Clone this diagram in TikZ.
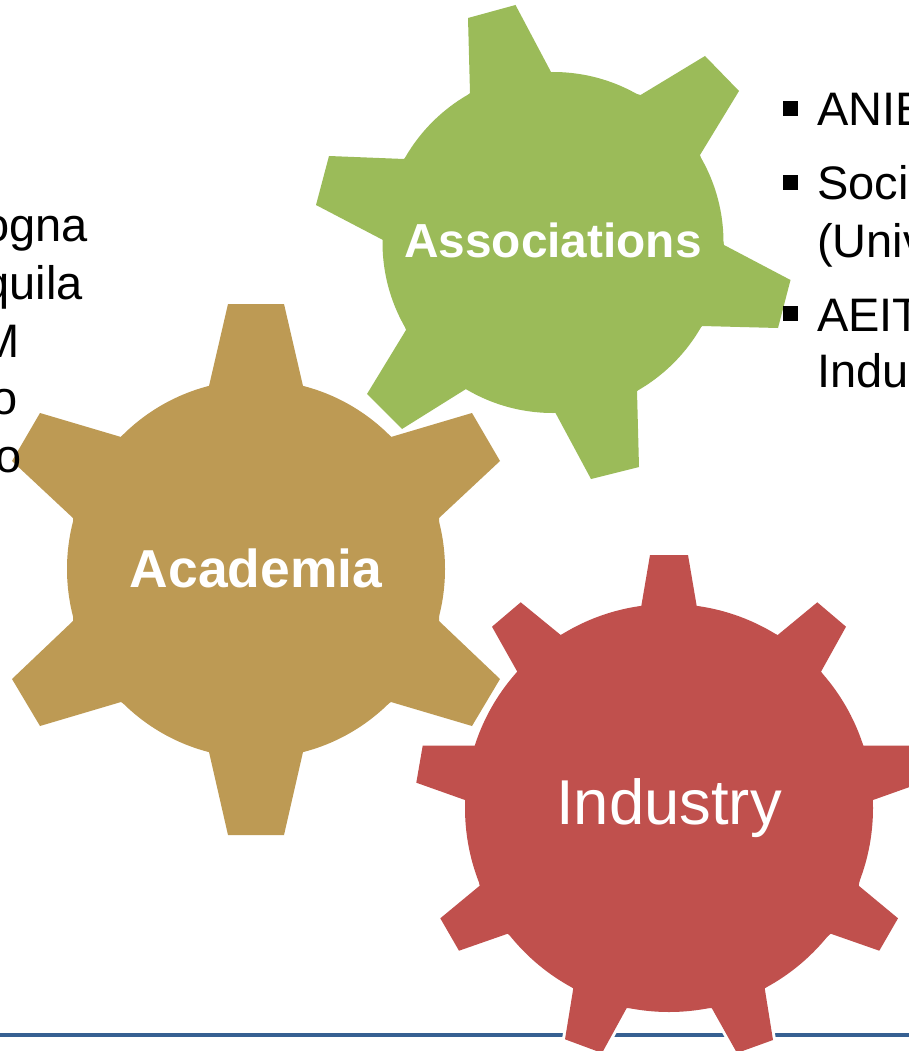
\documentclass[tikz,border=0pt]{standalone}
\usepackage{fontspec}
\setmainfont{Liberation Sans}
\definecolor{gearTan}{HTML}{BD9A54}
\definecolor{gearGreen}{HTML}{9BBB59}
\definecolor{gearRed}{HTML}{C0504D}
\definecolor{rule}{HTML}{366092}
\newcommand{\gearshape}[4]{% colour, centre, radius, teeth polygon
  \draw[white,line width=6pt,line join=miter] #4 -- cycle;
  \draw[white,line width=6pt] #2 circle (#3pt);
  \fill[#1] #4 -- cycle;
  \fill[#1] #2 circle (#3pt);
}
\tikzset{
  x=1pt,y=-1pt,
  bodytext/.style={anchor=base west,inner sep=0pt,font=\fontsize{47}{47}\selectfont,text=black},
  lefttext/.style={anchor=base east,inner sep=0pt,font=\fontsize{47}{47}\selectfont,text=black},
  bulletbox/.style={fill=black,inner sep=0pt,minimum size=15pt,draw=none},
  gearbold/.style={anchor=base,inner sep=0pt,text=white,font=\bfseries\fontsize{#1}{#1}\selectfont},
  gearplain/.style={anchor=base,inner sep=0pt,text=white,font=\fontsize{#1}{#1}\selectfont}
}
\begin{document}
\begin{tikzpicture}
\useasboundingbox (0,0) rectangle (909,1051);
\clip (0,0) rectangle (909,1051);
\fill[white] (0,0) rectangle (909,1051);
\fill[rule] (0,1033) rectangle (909,1037);
% Academia
\gearshape{gearTan}{(256,569)}{189}{(209,386) -- (228,304) -- (284,304) -- (303,386) -- (391,437) -- (472,413) -- (500,461) -- (439,518) -- (439,621) -- (500,679) -- (472,726) -- (391,702) -- (303,752) -- (284,835) -- (228,835) -- (209,752) -- (121,702) -- (40,726) -- (12,679) -- (73,621) -- (73,518) -- (12,461) -- (40,413) -- (121,437)}
% Associations
\gearshape{gearGreen}{(553,242.5)}{170.5}{(470,93) -- (468,18) -- (515.5,5) -- (551,72) -- (640.6,95) -- (705,56) -- (739,91) -- (700,155) -- (724,245) -- (790.5,280) -- (778,328) -- (702,326) -- (637,391) -- (639,467) -- (591,479) -- (555.5,413) -- (466,389) -- (402,429) -- (367,394) -- (406,330) -- (383,240) -- (316,205) -- (329,156) -- (404,159)}
% Industry
\gearshape{gearRed}{(669,808)}{204}{(641.3,606) -- (650,555) -- (688,555) -- (696.7,606) -- (777.7,635) -- (817.3,602.3) -- (846,626.7) -- (821,671.7) -- (863.3,745.7) -- (915.3,745.7) -- (921.7,782.7) -- (873,800) -- (858.7,885.7) -- (898,918.3) -- (879.3,950.7) -- (830.7,933.7) -- (764.7,988.3) -- (773,1040) -- (737,1053) -- (711.7,1008) -- (626.7,1008) -- (602,1053) -- (565,1039.3) -- (573.3,988.3) -- (507.7,933.7) -- (459,950.7) -- (440.3,918.3) -- (479.7,885.7) -- (465,800) -- (416.3,782.7) -- (422.7,745.7) -- (475,745.7) -- (517.3,671.7) -- (492,626.7) -- (520.7,602.3) -- (560.7,635)}
% gear labels
\node[gearbold=47.8] (assoc) at (553,257) {Associations};
\node[gearbold=53.4] (acad) at (256,587.5) {Academia};
\node[gearplain=63.4] (indu) at (669,824) {Industry};
% left text
\node[lefttext] (l1) at (88,241.5) {ogna};
\node[lefttext] (l2) at (83,299) {quila};
\node[lefttext] (l3) at (20,357) {M};
\node[lefttext] (l4) at (18,414.5) {o};
\node[lefttext] (l5) at (22,472) {o};
% right text
\node[bulletbox] (b1) at (790,108.5) {};
\node[bulletbox] (b2) at (790,182.5) {};
\node[bulletbox] (b3) at (790,313) {};
\node[bodytext] (r1) at (817,126) {ANIE};
\node[bodytext] (r2) at (817,199) {Soci};
\node[bodytext] (r3) at (817,257) {(Univ};
\node[bodytext] (r4) at (817,331) {AEIT};
\node[bodytext] (r5) at (817,387) {Indu};
\end{tikzpicture}
\end{document}
